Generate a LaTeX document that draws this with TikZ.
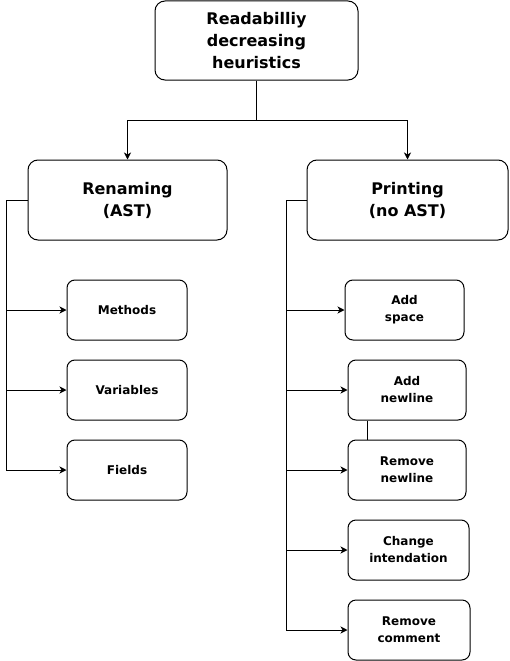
\documentclass[tikz,border=0pt]{standalone}
\usepackage{fontspec}
\setmainfont{DejaVu Sans}
\usetikzlibrary{arrows.meta}
\tikzset{
  box/.style={draw=black, line width=1pt, rounded corners=10pt, align=center, inner sep=0pt, font=\bfseries},
  bigbox/.style={box, font=\fontsize{16}{22}\selectfont\bfseries},
  smallbox/.style={box, rounded corners=8pt, font=\fontsize{12}{17}\selectfont\bfseries},
  conn/.style={line width=1pt, draw=black},
  arr/.style={conn, -{Stealth[length=7pt,width=7pt,inset=2pt]}}
}
\begin{document}
\begin{tikzpicture}[x=1pt,y=-1pt]
\useasboundingbox (0,0) rectangle (509,661);
% top
\node[bigbox, minimum width=203pt, minimum height=79pt] (top) at (256.5,40.5) {Readabilliy\\decreasing\\heuristics};
% second level
\node[bigbox, minimum width=199pt, minimum height=80pt] (ren) at (127.5,200) {Renaming\\(AST)};
\node[bigbox, minimum width=201pt, minimum height=80pt] (pri) at (407.5,200) {Printing\\(no AST)};
% left children
\node[smallbox, minimum width=120pt, minimum height=60pt] (meth) at (127,310) {Methods};
\node[smallbox, minimum width=120pt, minimum height=60pt] (vars) at (127,390) {Variables};
\node[smallbox, minimum width=120pt, minimum height=60pt] (fld) at (127,470) {Fields};
% right children
\node[smallbox, minimum width=119pt, minimum height=60pt] (asp) at (404.5,310) {Add\\space};
\node[smallbox, minimum width=118pt, minimum height=60pt] (anl) at (407,390) {Add\\newline};
\node[smallbox, minimum width=118pt, minimum height=60pt] (rnl) at (407,470) {Remove\\newline};
\node[smallbox, minimum width=121pt, minimum height=60pt] (chi) at (408.5,550) {Change\\intendation};
\node[smallbox, minimum width=122pt, minimum height=60pt] (rco) at (409,630) {Remove\\comment};
% top connectors
\draw[arr] (top.south) -- ++(0,40) -| (ren.north);
\draw[arr] (top.south) -- ++(0,40) -| (pri.north);
% left tree
\draw[arr] (ren.west) -- ++(-21,0) |- (meth.west);
\draw[arr] (ren.west) -- ++(-21,0) |- (vars.west);
\draw[arr] (ren.west) -- ++(-21,0) |- (fld.west);
% right tree
\draw[arr] (pri.west) -- ++(-20,0) |- (asp.west);
\draw[arr] (pri.west) -- ++(-20,0) |- (anl.west);
\draw[arr] (pri.west) -- ++(-20,0) |- (rnl.west);
\draw[arr] (pri.west) -- ++(-20,0) |- (chi.west);
\draw[arr] (pri.west) -- ++(-20,0) |- (rco.west);
% link between add newline and remove newline
\draw[conn] ([xshift=-40pt]anl.south) -- ([xshift=-40pt]rnl.north);
\end{tikzpicture}
\end{document}
